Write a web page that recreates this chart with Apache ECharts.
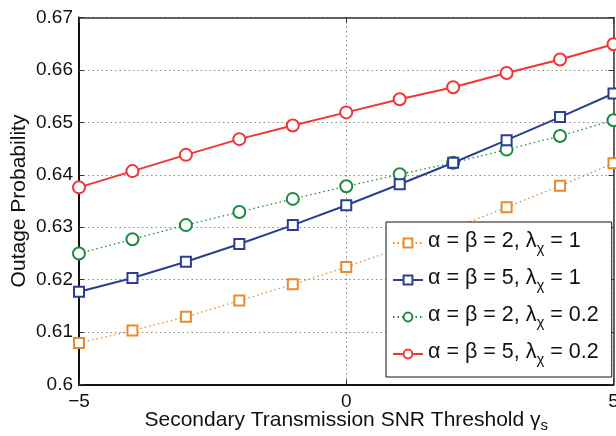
<!DOCTYPE html>
<html><head><meta charset="utf-8">
<script src="https://cdn.jsdelivr.net/npm/echarts@6/dist/echarts.min.js"></script>
<style>html,body{margin:0;padding:0;background:#fff}#c{width:616px;height:436px}</style>
</head><body><div id="c"></div>
<script>
const xValues = [-5,-4,-3,-2,-1,0,1,2,3,4,5];
const seriesA2L1 = [0.6079,0.6103,0.6129,0.6160,0.6191,0.6224,0.6260,0.6298,0.6338,0.6379,0.6422];
const seriesA5L1 = [0.6177,0.6203,0.6234,0.6268,0.6304,0.6342,0.6382,0.6423,0.6466,0.6510,0.6555];
const seriesA2L02 = [0.6250,0.6277,0.6304,0.6329,0.6354,0.6378,0.6401,0.6423,0.6448,0.6474,0.6504];
const seriesA5L02 = [0.6376,0.6407,0.6438,0.6468,0.6494,0.6519,0.6544,0.6567,0.6594,0.6620,0.6649];
const legendNames = ['a2l1','a5l1','a2l02','a5l02'];
const legendParts = {a2l1:['2','1'], a5l1:['5','1'], a2l02:['2','0.2'], a5l02:['5','0.2']};
const yTicks = [0.6,0.61,0.62,0.63,0.64,0.65,0.66,0.67];
const xTicks = [-5,0,5];

const FONT = '"Liberation Sans", Arial, Helvetica, sans-serif';
const pair = arr => xValues.map((x,i)=>[x,arr[i]]);
const chart = echarts.init(document.getElementById('c'), null, {renderer:'canvas'});
const gridLine = {show:true, lineStyle:{color:'#8a8a8a', width:1, type:[1.5,3]}};
const mk = (name, data, color, symbol, size, dotted, lw) => ({
  name, type:'line', data: pair(data), symbol, symbolSize:size, showSymbol:true,
  lineStyle:{color, width:lw, type: dotted ? [1.5,3] : 'solid'},
  itemStyle:{color, borderColor:color, borderWidth:1.8},
  emphasis:{disabled:true}, z: dotted?2:3
});
chart.setOption({
  animation:false,
  backgroundColor:'#fff',
  grid:{left:79, right:2.5, top:17.5, bottom:51.5, containLabel:false, outerBoundsMode:'none'},
  xAxis:[{
    type:'value', min:-5, max:5, interval:5,
    axisLine:{show:true, onZero:false, lineStyle:{color:'#111', width:2}},
    axisTick:{show:true, inside:true, length:5, lineStyle:{color:'#333'}},
    axisLabel:{fontSize:19, fontFamily:FONT, color:'#111', margin:8,
      formatter:v => v<0 ? '\u2212'+Math.abs(v) : String(v)},
    splitLine:gridLine,
    name:'{a|Secondary Transmission SNR Threshold \u03b3}{s|s}',
    nameLocation:'middle', nameGap:25, nameMoveOverlap:false,
    nameTextStyle:{rich:{
      a:{fontSize:21, fontFamily:FONT, color:'#111', verticalAlign:'top', lineHeight:23},
      s:{fontSize:15, fontFamily:FONT, color:'#111', verticalAlign:'top', padding:[9,0,0,0]}
    }}
  },{
    type:'value', position:'top', min:-5, max:5, interval:5,
    axisLine:{show:true, onZero:false, lineStyle:{color:'#333', width:1.5}},
    axisTick:{show:true, inside:true, length:5, lineStyle:{color:'#333'}},
    axisLabel:{show:false}, splitLine:{show:false}
  }],
  yAxis:[{
    type:'value', min:0.6, max:0.67, interval:0.01,
    axisLine:{show:true, onZero:false, lineStyle:{color:'#111', width:2}},
    axisTick:{show:true, inside:true, length:5, lineStyle:{color:'#333'}},
    axisLabel:{fontSize:19, fontFamily:FONT, color:'#111', margin:6,
      formatter:v => String(parseFloat(v.toFixed(2)))},
    splitLine:gridLine,
    name:'Outage Probability', nameLocation:'middle', nameGap:49, nameMoveOverlap:false,
    nameTextStyle:{fontSize:21, fontFamily:FONT, color:'#111'}
  },{
    type:'value', position:'right', min:0.6, max:0.67, interval:0.01,
    axisLine:{show:true, onZero:false, lineStyle:{color:'#333', width:1.5}},
    axisTick:{show:true, inside:true, length:5, lineStyle:{color:'#333'}},
    axisLabel:{show:false}, splitLine:{show:false}
  }],
  legend:{
    orient:'vertical', left:386, top:222, width:227,
    backgroundColor:'#fff', borderColor:'#111', borderWidth:1,
    padding:[8,13,10,6], itemGap:11, itemWidth:30, itemHeight:11,
    data:legendNames,
    formatter: n => '{a|\u03b1 = \u03b2 = '+legendParts[n][0]+', \u03bb}{s|\u03c7}{a| = '+legendParts[n][1]+'}',
    textStyle:{rich:{
      a:{fontSize:21.5, fontFamily:FONT, color:'#111', verticalAlign:'top', lineHeight:23},
      s:{fontSize:15, fontFamily:FONT, color:'#111', verticalAlign:'top', padding:[11,0,0,0]}
    }},
    z:10
  },
  series:[
    mk('a2l1', seriesA2L1, '#e8892b', 'emptyRect', 10, true, 1.3),
    mk('a5l1', seriesA5L1, '#2b3f92', 'emptyRect', 10, false, 2),
    mk('a2l02', seriesA2L02, '#1b8a3c', 'emptyCircle', 12, true, 1.3),
    mk('a5l02', seriesA5L02, '#f23535', 'emptyCircle', 12, false, 2)
  ]
});
</script></body></html>
